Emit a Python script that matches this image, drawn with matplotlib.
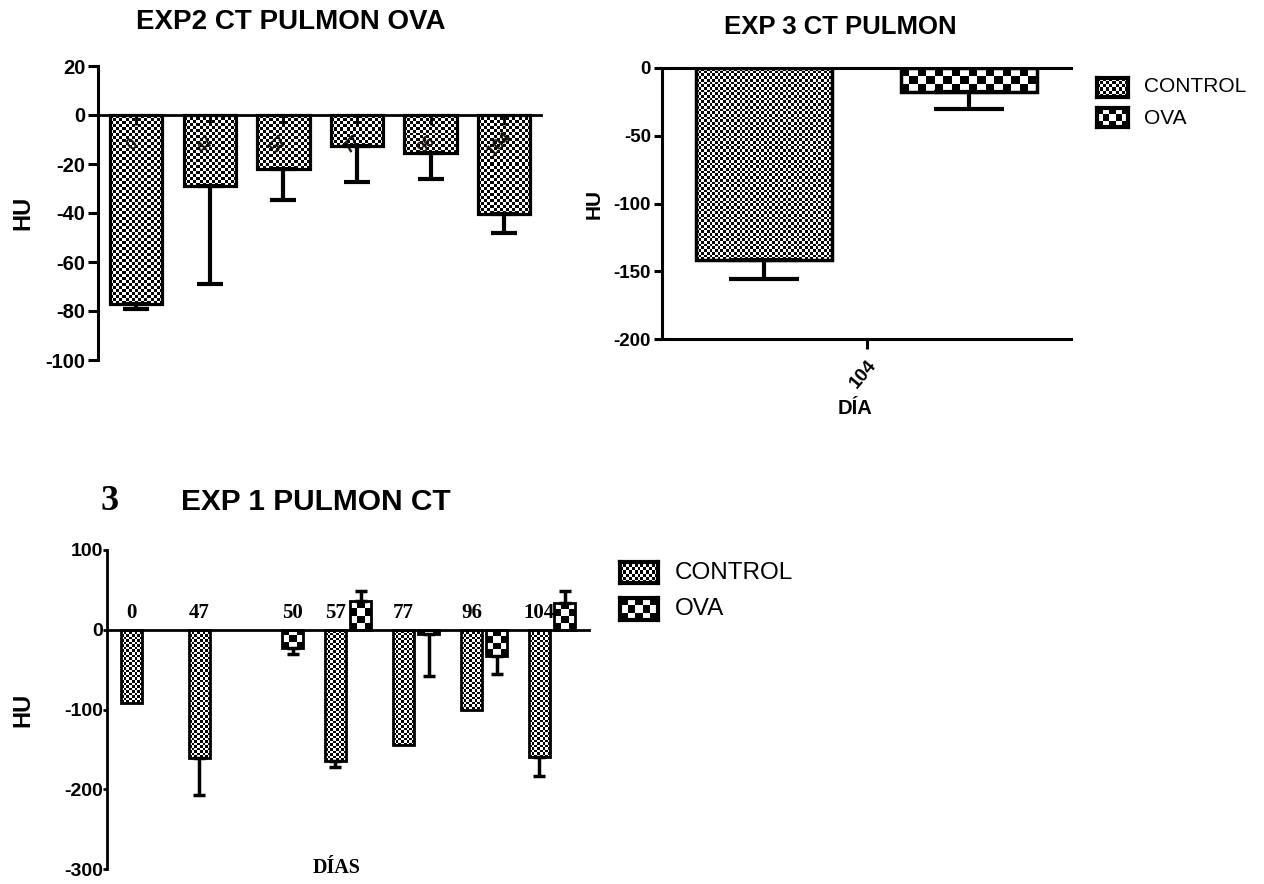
import numpy as np
from matplotlib import pyplot as plt

plt.rcParams["axes.unicode_minus"] = False

W, H = 1264, 884

# --- EXP2 CT PULMON OVA (top left)
exp2_days = ["0", "47", "57", "77", "96", "104"]
exp2_mean = [-77, -29, -22, -12.5, -15.5, -40.5]
exp2_err = [2, 40, 12.5, 15, 10.5, 7.5]

# --- EXP 3 CT PULMON (top right)
exp3_day = ["104"]
exp3_control = [-141.5]
exp3_control_err = [14]
exp3_ova = [-17.5]
exp3_ova_err = [12.5]

# --- EXP 1 PULMON CT (bottom)
exp1_days = ["0", "47", "50", "57", "77", "96", "104"]
exp1_control = [-92, -161, np.nan, -164, -144, -100, -159]
exp1_control_err = [0, 46, np.nan, 8, 0, 0, 25]
exp1_ova = [np.nan, np.nan, -23, 36, -5, -33, 34]
exp1_ova_err = [np.nan, np.nan, 7, 12, 53, 22, 14]

SANS = "Liberation Sans"
SERIF = "Liberation Serif"


def frac(x, y):
    """pixel (from top-left) -> figure fraction"""
    return x / W, 1 - y / H


def box(x0, y0, x1, y1):
    return [x0 / W, 1 - y1 / H, (x1 - x0) / W, (y1 - y0) / H]


def checker_board(nx, ny):
    return np.add.outer(np.arange(ny), np.arange(nx)) % 2


def fill_checker(ax, bars, cell):
    """fill each bar with a black/white checkerboard of roughly `cell` pixels"""
    for b in bars:
        x0, y0, w, h = b.get_x(), b.get_y(), b.get_width(), b.get_height()
        if np.isnan(h) or h == 0:
            continue
        (px0, py0), (px1, py1) = ax.transData.transform([(x0, y0), (x0 + w, y0 + h)])
        nx = max(1, int(round(abs(px1 - px0) / cell)))
        ny = max(1, int(round(abs(py1 - py0) / cell)))
        ax.imshow(checker_board(nx, ny), cmap="gray", vmin=0, vmax=1,
                  extent=(x0, x0 + w, min(y0, y0 + h), max(y0, y0 + h)),
                  origin="lower", interpolation="nearest", aspect="auto", zorder=2)


def one_sided_err(ax, x, vals, errs, capsize, lw):
    for xi, v, e in zip(x, vals, errs):
        if np.isnan(v) or np.isnan(e) or e == 0:
            continue
        yerr = [[e], [0]] if v < 0 else [[0], [e]]
        ax.errorbar([xi], [v], yerr=yerr, fmt="none", ecolor="black",
                    elinewidth=lw, capsize=capsize, capthick=lw, zorder=4)


def swatch(fig, x0, y0, x1, y1, cell):
    sax = fig.add_axes(box(x0, y0, x1, y1))
    nx = max(1, int(round((x1 - x0) / cell)))
    ny = max(1, int(round((y1 - y0) / cell)))
    sax.imshow(checker_board(nx, ny), cmap="gray", vmin=0, vmax=1,
               interpolation="nearest", aspect="auto")
    sax.set_xticks([])
    sax.set_yticks([])
    for s in sax.spines.values():
        s.set_linewidth(3)


fig = plt.figure(figsize=(W / 100, H / 100), dpi=100)
tick_font = dict(family=SANS, weight="bold")

# ================= top left =================
ax1 = fig.add_axes(box(98, 66, 541, 360))
x1 = np.arange(len(exp2_days))
ax1.set_xlim(-0.52, 5.5)
ax1.set_ylim(-100, 20)
bars1 = ax1.bar(x1, exp2_mean, width=0.71, facecolor="none", edgecolor="black",
                linewidth=2.3, zorder=3)
fill_checker(ax1, bars1, 3)
one_sided_err(ax1, x1, exp2_mean, exp2_err, 9.5, 3)
for xi, lab in zip(x1, exp2_days):
    ax1.text(xi - 0.06, -12, lab, rotation=45, ha="center", va="center",
             fontsize=11.5, family=SANS, weight="bold", color="#1a1408", zorder=5)
ax1.set_xlim(-0.52, 5.5)
ax1.set_ylim(-100, 20)
ax1.spines["top"].set_visible(False)
ax1.spines["right"].set_visible(False)
ax1.spines["bottom"].set_position(("data", 0))
ax1.spines["bottom"].set_linewidth(2)
ax1.spines["left"].set_linewidth(2.2)
ax1.xaxis.set_zorder(4)
ax1.set_xticks(x1)
ax1.set_xticklabels([])
ax1.tick_params(axis="x", direction="out", length=7, width=2)
ax1.set_yticks([20, 0, -20, -40, -60, -80, -100])
ax1.tick_params(axis="y", direction="out", length=7, width=2.2, pad=2)
for t in ax1.get_yticklabels():
    t.set_fontproperties(tick_font)
    t.set_fontsize(14.5)
fig.text(*frac(291, 22), "EXP2 CT PULMON OVA", ha="center", va="center",
         fontsize=20, family=SANS, weight="bold")
fig.text(*frac(23, 213), "HU", rotation=90, ha="center", va="center",
         fontsize=17, family=SANS, weight="bold")

# ================= top right =================
ax2 = fig.add_axes(box(662, 68, 1071, 339))
ax2.set_xlim(-1, 1)
ax2.set_ylim(-200, 0)
xc = np.arange(len(exp3_day))
bc = ax2.bar(xc - 0.5, exp3_control, width=0.665, facecolor="none", edgecolor="black",
             linewidth=2.5, zorder=3)
bo = ax2.bar(xc + 0.5, exp3_ova, width=0.665, facecolor="none", edgecolor="black",
             linewidth=2.5, zorder=3)
fill_checker(ax2, bc, 2.7)
fill_checker(ax2, bo, 8.5)
one_sided_err(ax2, xc - 0.5, exp3_control, exp3_control_err, 25, 3)
one_sided_err(ax2, xc + 0.5, exp3_ova, exp3_ova_err, 25, 3)
ax2.set_xlim(-1, 1)
ax2.set_ylim(-200, 0)
ax2.spines["right"].set_visible(False)
for s in ["top", "bottom", "left"]:
    ax2.spines[s].set_linewidth(2.2)
ax2.set_xticks(xc)
ax2.set_xticklabels(exp3_day, rotation=50, ha="right", rotation_mode="anchor",
                    fontsize=13.5, family=SANS, weight="bold")
ax2.tick_params(axis="x", direction="out", length=7, width=2.2, pad=6)
ax2.set_yticks([0, -50, -100, -150, -200])
ax2.tick_params(axis="y", direction="out", length=6, width=2.2, pad=2)
for t in ax2.get_yticklabels():
    t.set_fontproperties(tick_font)
    t.set_fontsize(13.5)
fig.text(*frac(840, 27), "EXP 3 CT PULMON", ha="center", va="center",
         fontsize=18.5, family=SANS, weight="bold")
fig.text(*frac(594, 204), "HU", rotation=90, ha="center", va="center",
         fontsize=15, family=SANS, weight="bold")
fig.text(*frac(855, 408), "DÍA", ha="center", va="center",
         fontsize=14.5, family=SANS, weight="bold")
swatch(fig, 1097, 78, 1128, 97, 3)
swatch(fig, 1097, 108, 1128, 127, 6)
fig.text(*frac(1144, 87), "CONTROL", ha="left", va="center", fontsize=15, family=SANS)
fig.text(*frac(1144, 118), "OVA", ha="left", va="center", fontsize=15, family=SANS)

# ================= bottom =================
ax3 = fig.add_axes(box(107, 550, 589, 869))
x3 = np.arange(len(exp1_days))
ax3.set_xlim(-0.544, 6.544)
ax3.set_ylim(-300, 100)
bc3 = ax3.bar(x3 - 0.185, exp1_control, width=0.31, facecolor="none", edgecolor="black",
              linewidth=2, zorder=3)
bo3 = ax3.bar(x3 + 0.185, exp1_ova, width=0.31, facecolor="none", edgecolor="black",
              linewidth=2, zorder=3)
fill_checker(ax3, bc3, 2.5)
fill_checker(ax3, bo3, 7)
one_sided_err(ax3, x3 - 0.185, exp1_control, exp1_control_err, 4.5, 2.5)
one_sided_err(ax3, x3 + 0.185, exp1_ova, exp1_ova_err, 4.5, 2.5)
for xi, lab, cv in zip(x3, exp1_days, exp1_control):
    lx = xi - 0.185 if not np.isnan(cv) else xi + 0.185
    ax3.text(lx, 21, lab, ha="center", va="center", fontsize=15,
             family=SERIF, weight="bold", zorder=5)
ax3.set_xlim(-0.544, 6.544)
ax3.set_ylim(-300, 100)
ax3.spines["top"].set_visible(False)
ax3.spines["right"].set_visible(False)
ax3.spines["bottom"].set_position(("data", 0))
ax3.spines["bottom"].set_linewidth(2)
ax3.spines["left"].set_linewidth(2)
ax3.set_xticks([])
ax3.set_yticks([100, 0, -100, -200, -300])
ax3.tick_params(axis="y", direction="out", length=3, width=2, pad=0)
for t in ax3.get_yticklabels():
    t.set_fontproperties(tick_font)
    t.set_fontsize(14)
fig.text(*frac(110, 502), "3", ha="center", va="center", fontsize=26,
         family=SERIF, weight="bold")
fig.text(*frac(316, 502), "EXP 1 PULMON CT", ha="center", va="center",
         fontsize=21.5, family=SANS, weight="bold")
fig.text(*frac(23, 710), "HU", rotation=90, ha="center", va="center",
         fontsize=17, family=SANS, weight="bold")
fig.text(*frac(337, 868), "DÍAS", ha="center", va="center", fontsize=14.5,
         family=SERIF, weight="bold")
swatch(fig, 620, 562, 658, 583, 3)
swatch(fig, 620, 598, 658, 620, 7)
fig.text(*frac(675, 573), "CONTROL", ha="left", va="center", fontsize=17.5, family=SANS)
fig.text(*frac(675, 609), "OVA", ha="left", va="center", fontsize=17.5, family=SANS)

plt.savefig("out.png", dpi=100)
